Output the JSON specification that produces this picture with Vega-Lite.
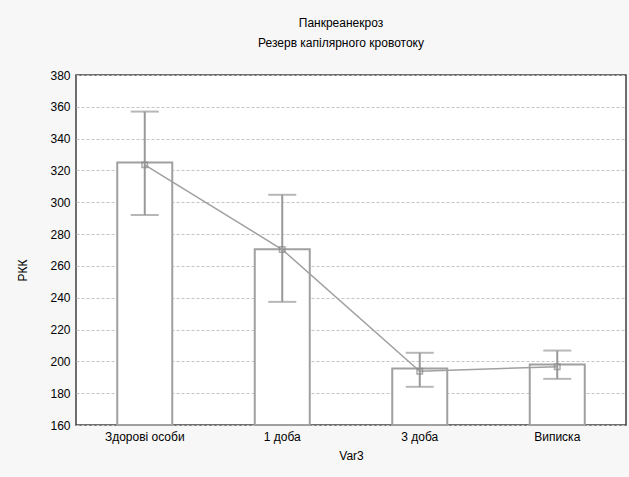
{
  "$schema": "https://vega.github.io/schema/vega-lite/v6.json",
  "autosize": {"type": "none"},
  "width": 550,
  "height": 350,
  "padding": {"left": 76, "top": 75, "right": 3, "bottom": 52},
  "background": "#f7f7f7",
  "title": {
    "text": "Панкреанекроз",
    "subtitle": "Резерв капілярного кровотоку",
    "font": "Liberation Sans",
    "subtitleFont": "Liberation Sans",
    "fontSize": 12,
    "subtitleFontSize": 12,
    "fontWeight": "normal",
    "color": "#000",
    "subtitleColor": "#000",
    "subtitlePadding": 8,
    "offset": 19,
    "dx": -10
  },
  "data": {
    "values": [
      {"group": "Здорові особи", "bar": 325, "mean": 323.5, "lo": 292, "hi": 357},
      {"group": "1 доба", "bar": 270.5, "mean": 270.3, "lo": 237.4, "hi": 304.7},
      {"group": "3 доба", "bar": 195.5, "mean": 193.8, "lo": 184, "hi": 205.4},
      {"group": "Виписка", "bar": 198, "mean": 196.6, "lo": 189, "hi": 206.8}
    ]
  },
  "encoding": {
    "x": {
      "field": "group",
      "type": "nominal",
      "sort": null,
      "title": "Var3",
      "scale": {"paddingInner": 0.6, "paddingOuter": 0.3},
      "axis": {"labelAngle": 0, "ticks": false, "domain": false, "labelPadding": 6, "titlePadding": 8}
    }
  },
  "layer": [
    {
      "mark": {"type": "bar", "fill": "white", "stroke": "#a0a0a0", "strokeWidth": 2},
      "encoding": {
        "y": {
          "field": "bar",
          "type": "quantitative",
          "title": "РКК",
          "scale": {"domain": [160, 380], "zero": false, "nice": false},
          "axis": {"values": [160, 180, 200, 220, 240, 260, 280, 300, 320, 340, 360, 380], "labelOverlap": false, "grid": true, "gridDash": [3, 2], "gridColor": "#c4c4c4", "ticks": false, "domain": false, "labelPadding": 6, "titlePadding": 20, "titleY": 195}
        },
        "y2": {"datum": 160}
      }
    },
    {
      "mark": {"type": "line", "color": "#a0a0a0", "strokeWidth": 1.5},
      "encoding": {"y": {"field": "mean", "type": "quantitative", "title": "РКК", "axis": {"values": [160, 180, 200, 220, 240, 260, 280, 300, 320, 340, 360, 380], "labelOverlap": false, "grid": true, "gridDash": [3, 2], "gridColor": "#c4c4c4", "ticks": false, "domain": false, "labelPadding": 6, "titlePadding": 20, "titleY": 195}}}
    },
    {
      "mark": {"type": "rule", "color": "#999999", "strokeWidth": 2},
      "encoding": {"y": {"field": "lo", "type": "quantitative", "title": "РКК", "axis": {"values": [160, 180, 200, 220, 240, 260, 280, 300, 320, 340, 360, 380], "labelOverlap": false, "grid": true, "gridDash": [3, 2], "gridColor": "#c4c4c4", "ticks": false, "domain": false, "labelPadding": 6, "titlePadding": 20, "titleY": 195}}, "y2": {"field": "hi"}}
    },
    {
      "mark": {"type": "tick", "color": "#999999", "thickness": 2, "size": 28},
      "encoding": {"y": {"field": "hi", "type": "quantitative", "title": "РКК", "axis": {"values": [160, 180, 200, 220, 240, 260, 280, 300, 320, 340, 360, 380], "labelOverlap": false, "grid": true, "gridDash": [3, 2], "gridColor": "#c4c4c4", "ticks": false, "domain": false, "labelPadding": 6, "titlePadding": 20, "titleY": 195}}}
    },
    {
      "mark": {"type": "tick", "color": "#999999", "thickness": 2, "size": 28},
      "encoding": {"y": {"field": "lo", "type": "quantitative", "title": "РКК", "axis": {"values": [160, 180, 200, 220, 240, 260, 280, 300, 320, 340, 360, 380], "labelOverlap": false, "grid": true, "gridDash": [3, 2], "gridColor": "#c4c4c4", "ticks": false, "domain": false, "labelPadding": 6, "titlePadding": 20, "titleY": 195}}}
    },
    {
      "mark": {"type": "point", "shape": "square", "filled": false, "color": "#888888", "size": 30, "strokeWidth": 1.5},
      "encoding": {"y": {"field": "mean", "type": "quantitative", "title": "РКК", "axis": {"values": [160, 180, 200, 220, 240, 260, 280, 300, 320, 340, 360, 380], "labelOverlap": false, "grid": true, "gridDash": [3, 2], "gridColor": "#c4c4c4", "ticks": false, "domain": false, "labelPadding": 6, "titlePadding": 20, "titleY": 195}}}
    }
  ],
  "config": {
    "font": "Liberation Sans",
    "view": {"fill": "white", "stroke": "#404040", "strokeWidth": 1.5},
    "axis": {"labelFont": "Liberation Sans", "titleFont": "Liberation Sans", "labelFontSize": 12, "titleFontSize": 12, "titleFontWeight": "normal", "labelColor": "#000", "titleColor": "#000"}
  }
}
